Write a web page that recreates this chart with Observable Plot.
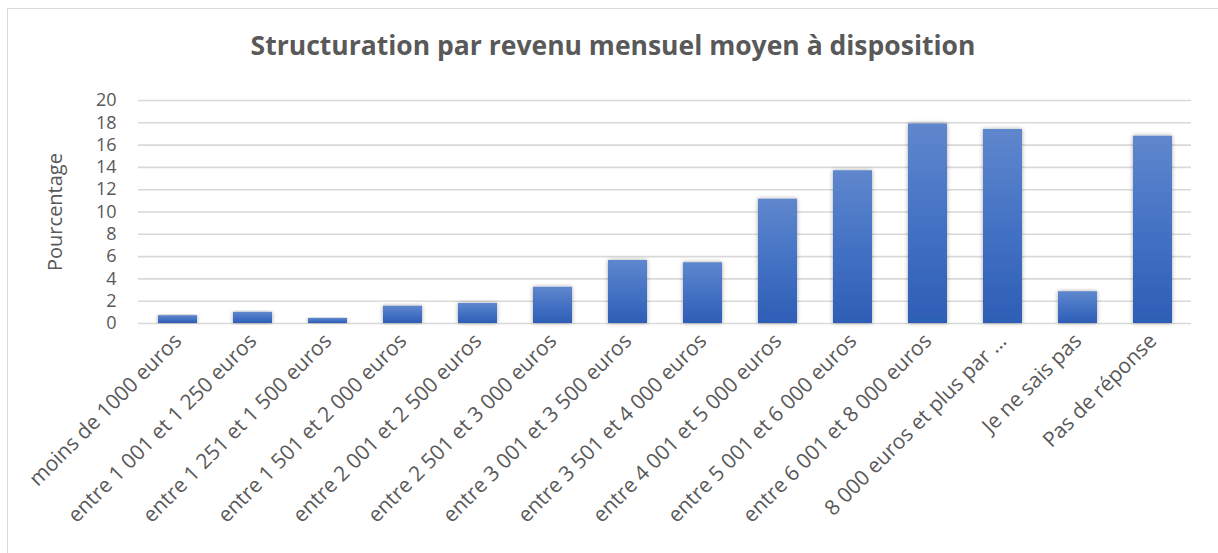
<!DOCTYPE html>
<html>
<head>
<meta charset="utf-8">
<script src="https://cdn.jsdelivr.net/npm/d3@7"></script>
<script src="https://cdn.jsdelivr.net/npm/@observablehq/plot@0.6"></script>
<style>
  html, body { margin: 0; padding: 0; background: #fff; }
  body { width: 1218px; height: 553px; position: relative; overflow: hidden; font-family: "Open Sans", sans-serif; }
  #frame { position: absolute; left: 7px; top: 8px; width: 1213px; height: 560px; border: 1px solid #d9d9d9; box-sizing: border-box; }
  #title { position: absolute; left: 0; top: 27px; width: 1226px; text-align: center; font-size: 26.5px; font-weight: 700; color: #595959; line-height: 36px; }
  #chart { position: absolute; left: 0; top: 70px; }
</style>
</head>
<body>
<div id="frame"></div>
<div id="title">Structuration par revenu mensuel moyen à disposition</div>
<div id="chart"></div>
<script>
const categories = [
  "moins de 1000 euros",
  "entre 1 001 et 1 250 euros",
  "entre 1 251 et 1 500 euros",
  "entre 1 501 et 2 000 euros",
  "entre 2 001 et 2 500 euros",
  "entre 2 501 et 3 000 euros",
  "entre 3 001 et 3 500 euros",
  "entre 3 501 et 4 000 euros",
  "entre 4 001 et 5 000 euros",
  "entre 5 001 et 6 000 euros",
  "entre 6 001 et 8 000 euros",
  "8 000 euros et plus par ...",
  "Je ne sais pas",
  "Pas de réponse"
];
const values = [0.7, 1.0, 0.45, 1.55, 1.8, 3.25, 5.65, 5.45, 11.15, 13.7, 17.9, 17.4, 2.85, 16.8];
const yTicks = [0, 2, 4, 6, 8, 10, 12, 14, 16, 18, 20];
const yLabel = "Pourcentage";

const data = categories.map((c, i) => ({category: c, value: values[i]}));

const chart = Plot.plot({
  width: 1218,
  height: 483,
  marginTop: 30,
  marginBottom: 230,
  marginLeft: 138,
  marginRight: 27,
  style: {fontFamily: "'Open Sans', sans-serif", fontSize: "18px", color: "#595959", background: "transparent"},
  x: {domain: categories, paddingInner: 0.48, paddingOuter: 0.24, label: null},
  y: {domain: [0, 20], label: null},
  marks: [
    Plot.ruleY(yTicks, {stroke: "#d9d9d9", strokeWidth: 1.6}),
    Plot.barY(data, {x: "category", y: "value", fill: "url(#barGrad)"}),
    Plot.axisY(yTicks, {anchor: "left", tickSize: 0, tickPadding: 22, fontSize: 18, fill: "#595959",
      label: yLabel, labelAnchor: "center", labelArrow: "none", labelOffset: 91}),
    Plot.axisX({anchor: "bottom", tickSize: 0, tickPadding: 14, tickRotate: -45, fontSize: 21, fill: "#595959", label: null})
  ]
});

// gradient + shadow defs
const ns = "http://www.w3.org/2000/svg";
const defs = document.createElementNS(ns, "defs");
defs.innerHTML = `
  <linearGradient id="barGrad" x1="0" y1="0" x2="0" y2="1">
    <stop offset="0" stop-color="#5f87cd"/>
    <stop offset="0.5" stop-color="#4472c4"/>
    <stop offset="1" stop-color="#2e5eb6"/>
  </linearGradient>
  <filter id="barShadow" x="-30%" y="-10%" width="160%" height="120%">
    <feDropShadow dx="0" dy="0" stdDeviation="2.2" flood-color="#000" flood-opacity="0.35"/>
  </filter>`;
chart.insertBefore(defs, chart.firstChild);
chart.querySelectorAll("rect").forEach(r => r.setAttribute("filter", "url(#barShadow)"));
chart.querySelectorAll("text").forEach(t => {
  if (t.textContent === yLabel) t.setAttribute("font-size", "20");
});
chart.querySelectorAll("g[aria-label='y-axis label']").forEach(g => g.setAttribute("font-size", "20"));
document.getElementById("chart").appendChild(chart);
</script>
</body>
</html>
